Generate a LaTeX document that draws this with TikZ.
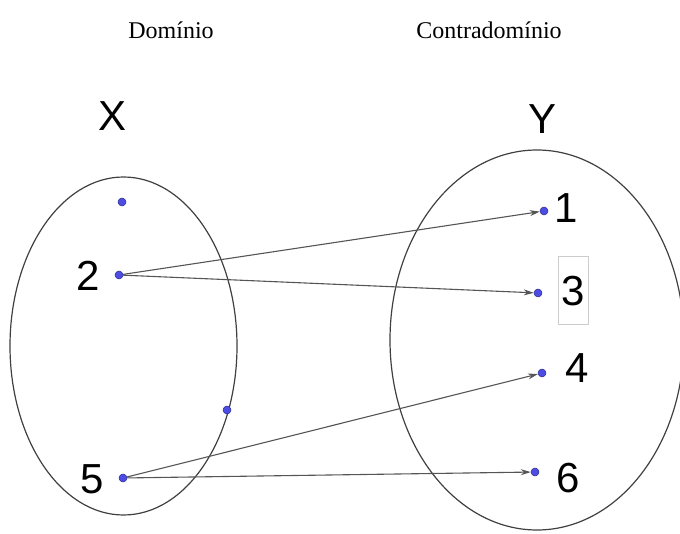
\documentclass[tikz,border=0pt]{standalone}
\usepackage{fontspec}
\setmainfont{Liberation Serif}
\newfontfamily\arialf{Liberation Sans}
\usetikzlibrary{arrows.meta}
\definecolor{dotblue}{RGB}{77,77,230}
\definecolor{arrgray}{RGB}{85,85,85}
\begin{document}
\begin{tikzpicture}[x=1pt,y=-1pt,
  pt/.style={circle,fill=dotblue,draw=dotblue!60!black,line width=0.5pt,inner sep=0pt,minimum size=8pt},
  lbl/.style={font=\arialf\fontsize{42}{42}\selectfont,inner sep=0pt},
  head/.style={font=\fontsize{24}{24}\selectfont,inner sep=0pt},
  arr/.style={draw=arrgray,line width=1.1pt,-{Stealth[length=10pt,width=6pt]}},
  setl/.style={draw=black!75,line width=1.2pt}]
\useasboundingbox (0,0) rectangle (680,534);
\node[head] (hd) at (171,30) {Domínio};
\node[head] (hc) at (489,30) {Contradomínio};
\node[lbl] (lx) at (113,116) {X};
\node[lbl] (ly) at (543,119) {Y};
\draw[setl] (123.5,346) ellipse [x radius=113.5, y radius=169];
\draw[setl] (537,340) ellipse [x radius=147, y radius=190];
\node[pt] (a) at (122,202) {};
\node[pt] (p2) at (119,275) {};
\node[pt] (b) at (227,410) {};
\node[pt] (p5) at (123,478) {};
\node[pt] (q1) at (544,211) {};
\node[pt] (q3) at (538,293) {};
\node[pt] (q4) at (542,373) {};
\node[pt] (q6) at (535,472) {};
\node[lbl] (l2) at (88,276) {2};
\node[lbl] (l5) at (92,479) {5};
\node[lbl] (l1) at (566,208) {1};
\node[lbl,draw=black!20,line width=1pt,minimum width=30pt,minimum height=68pt] (l3) at (573,291) {3};
\node[lbl] (l4) at (577,368) {4};
\node[lbl] (l6) at (568,478) {6};
\draw[arr] (p2) -- (q1);
\draw[arr] (p2) -- (q3);
\draw[arr] (p5) -- (q4);
\draw[arr] (p5) -- (q6);
\end{tikzpicture}
\end{document}
